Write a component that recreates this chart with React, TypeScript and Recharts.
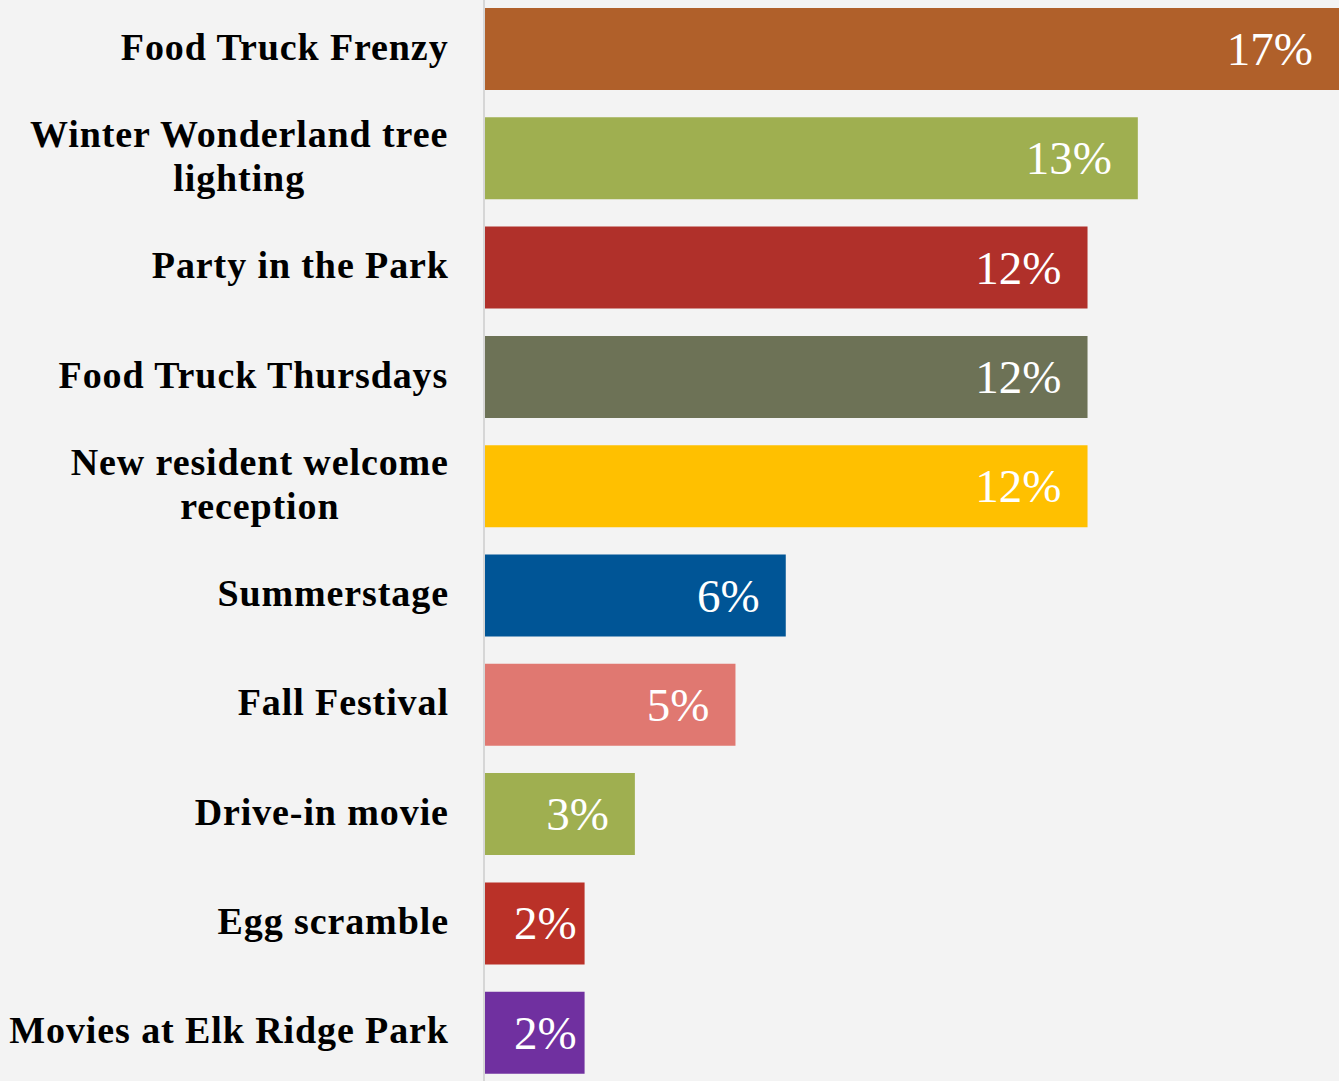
import React from "react";
import { BarChart, Bar, XAxis, YAxis, Cell, LabelList } from "recharts";

const events = [
  "Food Truck Frenzy",
  "Winter Wonderland tree lighting",
  "Party in the Park",
  "Food Truck Thursdays",
  "New resident welcome reception",
  "Summerstage",
  "Fall Festival",
  "Drive-in movie",
  "Egg scramble",
  "Movies at Elk Ridge Park",
];

const shares = [17, 13, 12, 12, 12, 6, 5, 3, 2, 2];

const barColors = [
  "#b0602a",
  "#9faf50",
  "#b0302a",
  "#6d7256",
  "#ffc000",
  "#005596",
  "#e07871",
  "#9faf50",
  "#ba3128",
  "#7030a0",
];

const data = events.map((name, i) => ({ name, share: shares[i] }));

const LABEL_FONT = "bold 38px 'Liberation Serif'";
const LABEL_SPACING = 0.9;
const VALUE_FONT = "47px 'Liberation Serif'";

let ctx: CanvasRenderingContext2D | null = null;
function measure(text: string, font: string, spacing = 0) {
  if (!ctx) ctx = document.createElement("canvas").getContext("2d");
  if (!ctx) return text.length * 18;
  ctx.font = font;
  return ctx.measureText(text).width + spacing * text.length;
}

function wrap(text: string, maxWidth: number) {
  const words = text.split(" ");
  const lines: string[] = [];
  let cur = "";
  for (const w of words) {
    const next = cur ? cur + " " + w : w;
    if (cur && measure(next, LABEL_FONT, LABEL_SPACING) > maxWidth) {
      lines.push(cur);
      cur = w;
    } else {
      cur = next;
    }
  }
  if (cur) lines.push(cur);
  return lines;
}

const CategoryTick = (props: any) => {
  const { x, y, payload } = props;
  const lines = wrap(String(payload.value), 445);
  const widest = Math.max(...lines.map((l) => measure(l, LABEL_FONT, LABEL_SPACING)));
  const cx = x - widest / 2 + LABEL_SPACING;
  const lineH = 44;
  const first = y + 11 - ((lines.length - 1) * lineH) / 2;
  return (
    <g>
      {lines.map((l, i) => (
        <text
          key={i}
          x={cx}
          y={first + i * lineH}
          textAnchor="middle"
          fill="#000"
          style={{ font: LABEL_FONT, letterSpacing: LABEL_SPACING }}
        >
          {l}
        </text>
      ))}
    </g>
  );
};

const ValueLabel = (props: any) => {
  const { x, y, width, height, value } = props;
  const text = `${value}%`;
  const tw = measure(text, VALUE_FONT);
  const right = Math.max(x + width - 26, x + 30 + tw);
  return (
    <text
      x={right}
      y={y + height / 2 + 16}
      textAnchor="end"
      fill="#fff"
      style={{ font: VALUE_FONT }}
    >
      {text}
    </text>
  );
};

export default function App() {
  return (
    <div
      style={{
        position: "absolute",
        left: 0,
        top: 0,
        width: 1339,
        height: 1081,
        overflow: "hidden",
        background: "#f3f3f3",
      }}
    >
      <div style={{ position: "absolute", left: 0, top: -6 }}>
        <BarChart
          width={1339}
          height={1093}
          data={data}
          layout="vertical"
          margin={{ top: 0, right: 0, bottom: 0, left: 0 }}
        >
          <XAxis type="number" domain={[0, 17]} hide />
          <YAxis
            type="category"
            dataKey="name"
            width={484}
            tickLine={false}
            tickSize={0}
            tickMargin={36}
            axisLine={{ stroke: "#d6d6d6", strokeWidth: 2 }}
            tick={<CategoryTick />}
            interval={0}
          />
          <Bar dataKey="share" barSize={82} isAnimationActive={false}>
            {data.map((d, i) => (
              <Cell key={d.name} fill={barColors[i]} />
            ))}
            <LabelList dataKey="share" content={<ValueLabel />} />
          </Bar>
        </BarChart>
      </div>
    </div>
  );
}
